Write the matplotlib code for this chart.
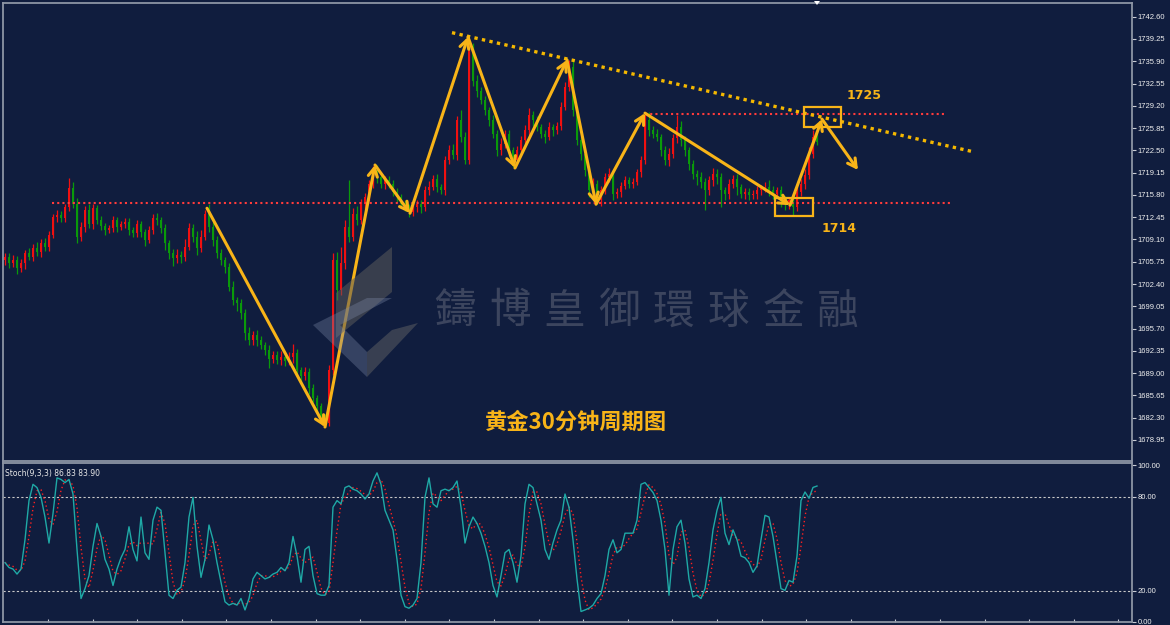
import numpy as np
import pandas as pd
import matplotlib
matplotlib.use("Agg")
import matplotlib.pyplot as plt
from matplotlib.patches import Rectangle, Polygon

# ---- data (30 min gold bars, oldest first) ----
first_open = 1706.0
closes = [
    1706.5, 1705.5, 1706.0, 1704.8, 1705.5, 1707.0, 1706.5, 1707.8, 1707.2, 1708.5,
    1708.0, 1709.8, 1712.5, 1712.8, 1712.3, 1714.0, 1716.8, 1714.5, 1709.5, 1711.0,
    1713.5, 1711.5, 1713.8, 1712.0, 1711.2, 1710.5, 1710.8, 1712.0, 1711.0, 1711.5,
    1711.8, 1710.5, 1710.0, 1711.5, 1710.2, 1709.0, 1710.5, 1712.3, 1712.0, 1710.8,
    1708.5, 1707.0, 1706.3, 1706.8, 1706.5, 1708.0, 1710.8, 1709.5, 1707.8, 1709.5,
    1713.0, 1711.0, 1709.0, 1707.0, 1706.0, 1705.0, 1702.0, 1700.0, 1699.5, 1698.0,
    1695.0, 1694.0, 1694.8, 1694.0, 1693.2, 1692.5, 1691.2, 1691.8, 1691.0, 1691.5,
    1690.8, 1691.5, 1692.0, 1689.5, 1688.5, 1689.2, 1686.8, 1685.3, 1684.0, 1682.5,
    1681.5, 1689.5, 1706.0, 1701.5, 1705.5, 1711.0, 1709.5, 1713.0, 1712.0, 1714.5,
    1715.5, 1717.5, 1719.5, 1718.5, 1717.5, 1718.0, 1717.5, 1716.3, 1715.5, 1714.5,
    1714.0, 1713.2, 1714.0, 1714.5, 1714.0, 1716.5, 1717.0, 1718.2, 1717.0, 1716.5,
    1721.0, 1722.5, 1721.8, 1727.0, 1724.5, 1721.0, 1737.5, 1733.0, 1731.5, 1730.0,
    1728.5, 1727.0, 1725.0, 1722.5, 1723.5, 1725.0, 1722.5, 1721.0, 1722.5, 1724.0,
    1725.5, 1727.8, 1727.0, 1726.0, 1725.0, 1724.5, 1726.0, 1725.5, 1726.2, 1729.0,
    1732.0, 1735.0, 1728.5, 1724.0, 1722.0, 1719.5, 1716.5, 1717.5, 1715.0, 1716.5,
    1718.5, 1719.0, 1716.0, 1716.3, 1717.2, 1718.0, 1717.5, 1717.8, 1719.2, 1721.0,
    1727.0, 1725.5, 1725.0, 1724.5, 1722.5, 1721.0, 1722.0, 1724.3, 1726.0, 1724.0,
    1722.5, 1720.5, 1719.0, 1718.5, 1717.8, 1716.5, 1718.0, 1719.0, 1718.5, 1716.5,
    1716.0, 1717.5, 1718.2, 1717.0, 1716.0, 1716.3, 1715.8, 1716.0, 1716.5, 1716.8,
    1717.0, 1716.5, 1716.0, 1716.5, 1715.0, 1714.5, 1715.0, 1714.0, 1716.3, 1717.5,
    1718.8, 1722.0, 1724.5, 1723.8,
]
# wick lengths above / below the body
high_wick = [
    0.6, 0.5, 0.8, 0.6, 0.7, 0.5, 0.8, 0.6, 0.9, 0.7,
    0.8, 0.6, 0.5, 0.7, 0.6, 0.5, 1.5, 0.9, 0.8, 0.7,
    0.6, 0.9, 0.7, 0.5, 0.6, 0.4, 0.5, 0.6, 0.5, 0.4,
    0.5, 0.6, 0.5, 0.6, 0.4, 0.5, 0.7, 0.6, 0.8, 0.5,
    0.6, 0.5, 0.7, 0.9, 0.6, 1.2, 0.8, 0.6, 0.9, 1.0,
    0.6, 1.5, 0.8, 0.6, 0.7, 0.5, 0.6, 0.8, 0.5, 0.7,
    0.6, 0.9, 0.5, 0.7, 0.6, 0.5, 0.8, 0.5, 0.6, 0.9,
    0.5, 0.7, 1.4, 0.6, 0.5, 0.8, 0.6, 0.5, 0.4, 0.5,
    0.4, 0.8, 1.0, 1.2, 2.5, 1.0, 7.0, 0.8, 1.2, 0.7,
    0.6, 0.5, 0.6, 0.8, 0.5, 0.6, 0.7, 0.5, 0.6, 0.5,
    0.6, 0.5, 0.8, 0.5, 0.6, 0.7, 0.9, 0.6, 0.8, 0.5,
    0.6, 0.8, 1.0, 0.7, 1.5, 0.8, 1.5, 1.2, 0.8, 0.6,
    0.7, 0.5, 0.8, 0.6, 0.9, 0.5, 0.6, 0.5, 0.7, 0.6,
    0.8, 1.0, 0.6, 0.7, 0.5, 0.6, 0.8, 0.5, 0.6, 0.7,
    0.8, 1.1, 0.9, 0.7, 0.6, 0.5, 0.6, 0.8, 0.5, 0.7,
    0.6, 0.8, 0.5, 0.6, 0.5, 0.7, 0.5, 0.6, 0.5, 0.6,
    1.0, 1.2, 0.6, 0.7, 0.5, 0.6, 0.8, 0.6, 1.8, 0.9,
    0.7, 0.5, 0.6, 0.5, 0.8, 0.5, 0.6, 0.8, 0.7, 0.6,
    0.5, 0.7, 0.6, 0.8, 0.5, 0.6, 0.5, 0.6, 0.7, 0.5,
    0.8, 1.0, 0.6, 0.5, 0.6, 0.7, 0.5, 0.6, 0.8, 0.7,
    0.9, 1.0, 1.0, 0.8,
]
low_wick = [
    0.8, 0.7, 0.6, 0.9, 0.6, 0.8, 0.5, 0.7, 0.6, 0.8,
    0.6, 0.7, 0.5, 0.8, 0.6, 0.5, 0.6, 0.7, 1.0, 0.6,
    0.7, 0.6, 0.8, 0.5, 0.6, 0.7, 0.5, 0.6, 0.8, 0.5,
    0.6, 0.7, 0.5, 0.6, 0.8, 0.9, 0.5, 0.6, 0.7, 0.8,
    1.0, 0.8, 1.2, 0.7, 0.9, 0.6, 0.5, 0.8, 1.0, 0.6,
    0.5, 0.8, 0.9, 0.7, 0.8, 1.0, 0.7, 0.8, 1.2, 0.9,
    1.0, 0.8, 0.7, 0.9, 0.6, 0.8, 1.5, 0.7, 0.6, 0.8,
    0.7, 0.6, 0.9, 0.7, 0.8, 0.6, 0.9, 0.7, 0.8, 0.9,
    0.6, 0.5, 0.8, 1.5, 0.7, 0.9, 0.8, 0.6, 0.7, 0.6,
    0.8, 0.6, 0.7, 0.9, 0.6, 0.8, 0.7, 0.6, 0.8, 0.7,
    0.6, 0.7, 0.5, 0.8, 0.9, 0.6, 0.7, 0.5, 0.8, 0.6,
    0.7, 0.5, 0.6, 0.8, 0.7, 0.6, 0.5, 0.8, 0.9, 0.6,
    0.7, 0.9, 0.6, 0.8, 0.7, 0.6, 0.9, 1.0, 0.6, 0.5,
    0.6, 0.7, 0.8, 0.6, 0.7, 0.9, 0.5, 0.8, 0.6, 0.7,
    0.5, 0.6, 0.8, 0.7, 0.9, 0.8, 1.0, 0.7, 0.6, 0.8,
    0.6, 0.7, 0.9, 0.6, 0.8, 0.5, 0.7, 0.6, 0.5, 0.7,
    0.6, 0.8, 0.7, 0.6, 0.9, 0.7, 0.8, 0.6, 0.7, 0.8,
    0.9, 1.0, 0.8, 1.2, 0.9, 3.0, 0.7, 0.8, 1.0, 2.5,
    0.9, 0.8, 0.7, 1.2, 0.6, 0.8, 0.7, 0.6, 0.8, 0.7,
    0.6, 0.9, 0.8, 0.7, 1.0, 0.9, 0.8, 1.2, 0.6, 0.7,
    0.8, 0.6, 0.7, 0.5,
]
# Stoch(9,3,3) main line
stoch_k = [
    37.9, 34.8, 33.8, 30.6, 33.8, 52.5, 77.5, 87.9, 85.8, 79.6,
    67.0, 50.4, 69.2, 92.0, 91.0, 89.0, 91.0, 81.7, 46.3, 15.0,
    21.3, 29.6, 48.3, 62.9, 54.6, 40.0, 33.8, 23.3, 33.8, 41.0,
    46.3, 60.8, 46.3, 39.0, 67.0, 44.2, 40.0, 65.0, 73.3, 71.3,
    44.2, 17.1, 15.0, 20.2, 22.3, 37.9, 67.0, 79.6, 48.3, 28.5,
    40.0, 61.9, 52.5, 37.9, 25.4, 12.9, 10.8, 11.9, 10.8, 15.0,
    7.7, 15.0, 27.5, 31.7, 29.6, 27.5, 28.5, 30.6, 31.7, 34.8,
    32.7, 37.9, 54.6, 42.1, 25.4, 46.3, 48.3, 29.6, 18.1, 17.1,
    17.1, 23.3, 73.3, 77.5, 75.4, 85.8, 86.9, 84.8, 83.8, 81.7,
    78.5, 81.7, 90.0, 95.2, 87.9, 71.3, 65.0, 58.8, 40.0, 17.1,
    9.8, 8.8, 10.8, 15.0, 37.9, 79.6, 92.0, 75.4, 73.3, 83.8,
    84.8, 83.8, 85.8, 90.0, 73.3, 50.4, 60.8, 67.0, 62.9, 56.7,
    48.3, 37.9, 23.3, 16.0, 29.6, 44.2, 46.3, 37.9, 25.4, 42.1,
    75.4, 87.9, 85.8, 75.4, 65.0, 46.3, 40.0, 50.4, 58.8, 65.0,
    81.7, 73.3, 52.5, 27.5, 6.7, 7.7, 8.8, 10.8, 15.0, 18.1,
    29.6, 46.3, 52.5, 44.2, 46.3, 56.7, 56.7, 56.7, 65.0, 87.9,
    89.0, 85.8, 82.7, 77.5, 65.0, 46.3, 17.1, 46.3, 60.8, 65.0,
    50.4, 27.5, 16.0, 17.1, 15.0, 21.3, 37.9, 58.8, 71.3, 79.6,
    56.7, 49.4, 58.8, 52.5, 42.1, 41.0, 37.9, 31.7, 35.8, 52.5,
    68.1, 67.0, 54.6, 37.9, 21.3, 20.2, 26.5, 25.4, 42.1, 77.5,
    83.0, 79.0, 85.9, 86.8,
]
price_ticks = [1742.60, 1739.25, 1735.90, 1732.55, 1729.20, 1725.85, 1722.50,
               1719.15, 1715.80, 1712.45, 1709.10, 1705.75, 1702.40, 1699.05,
               1695.70, 1692.35, 1689.00, 1685.65, 1682.30, 1678.95]
stoch_ticks = [100, 80, 20, 0]
stoch_levels = [80, 20]

# analysis drawn on the chart (bar index, price)
swing_bars = [50.5, 80, 92.5, 101.25, 115.75, 127.5, 140.5, 147.75, 160, 196.25, 204.25, 213.25]
swing_prices = [1713.8, 1680.9, 1720.3, 1713.05, 1739.55, 1719.85, 1736.1, 1714.4,
                1728.1, 1714.25, 1727.2, 1719.55]
trend_bars = [111.75, 242]
trend_prices = [1740.2, 1722.3]
support = 1714.6
resistance = 1728.0

# ---- styling ----
BG = '#101d3e'
FRAME = '#8d95a5'
ORANGE = '#f8b418'
UP = '#f01010'
DOWN = '#0a9a0a'
CJK = ['Noto Sans CJK SC', 'DejaVu Sans']

W, H = 1170, 625
fig = plt.figure(figsize=(W / 100, H / 100), dpi=100, facecolor=BG)


def frac(x, y):
    return x / W, 1 - y / H


ax = fig.add_axes([3 / W, 1 - 461 / H, 1129 / W, 458 / H], facecolor=BG)
ax2 = fig.add_axes([3 / W, 1 - 622 / H, 1129 / W, 159 / H], facecolor=BG)

c = np.array(closes)
o = np.r_[first_open, c[:-1]]
hi = np.maximum(o, c) + np.array(high_wick)
lo = np.minimum(o, c) - np.array(low_wick)
x = np.arange(len(c))
cols = np.where(c >= o, UP, DOWN)

ax.vlines(x, lo, hi, colors=cols, linewidth=0.9, zorder=2)
ax.bar(x, np.maximum(np.abs(c - o), 0.15), bottom=np.minimum(o, c), width=0.74,
       color=cols, linewidth=0, zorder=3)

# support / resistance
ax.plot([11.75, 236.25], [support, support], color='#ff3b3b', lw=1.5,
        linestyle=(0, (1, 1.5)), zorder=4)
ax.plot([160, 235.2], [resistance, resistance], color='#ff3b3b', lw=1.5,
        linestyle=(0, (1, 1.5)), zorder=4)
# falling trend line
ax.plot(trend_bars, trend_prices, color='#f5b800', lw=2.4,
        linestyle=(0, (1, 1.3)), zorder=5)

# swing arrows
for k in range(len(swing_bars) - 1):
    ax.annotate('', xy=(swing_bars[k + 1], swing_prices[k + 1]),
                xytext=(swing_bars[k], swing_prices[k]),
                arrowprops=dict(arrowstyle='->,head_length=0.6,head_width=0.33',
                                color=ORANGE, lw=2.2, shrinkA=0, shrinkB=0),
                zorder=6)

# key boxes and labels
ax.add_patch(Rectangle((199.75, 1725.97), 9.25, 3.1, fill=False, ec=ORANGE, lw=1.6, zorder=6))
ax.add_patch(Rectangle((192.5, 1712.68), 9.4, 2.7, fill=False, ec=ORANGE, lw=1.6, zorder=6))
ax.text(214.75, 1730.73, '1725', color=ORANGE, fontsize=9, fontweight='bold',
        ha='center', va='center', zorder=7)
ax.text(208.4, 1710.75, '1714', color=ORANGE, fontsize=9, fontweight='bold',
        ha='center', va='center', zorder=7)
ax.text(142.75, 1681.6, '黄金30分钟周期图', color=ORANGE, fontsize=16, fontweight='bold',
        family=CJK, ha='center', va='center', zorder=7)

ax.set_xlim(-0.5, 281.75)
ax.set_ylim(1675.79, 1744.66)
ax.set_xticks([])
ax.yaxis.tick_right()
ax.set_yticks(price_ticks)
ax.set_yticklabels(['%.2f' % v for v in price_ticks])

# stochastic panel
k_line = pd.Series(stoch_k)
d_line = k_line.rolling(3, min_periods=1).mean()
for lvl in stoch_levels:
    ax2.axhline(lvl, color='#c8c8c8', lw=0.8, linestyle=(0, (2, 2)), zorder=1)
ax2.plot(x, k_line, color='#1fa9a6', lw=1.0, zorder=3)
ax2.plot(x, d_line, color='#ff2020', lw=1.0, linestyle=(0, (1, 2)), zorder=2)
ax2.text(0.002, 0.965, 'Stoch(9,3,3) 86.83 83.90', transform=ax2.transAxes,
         color='#e8e8e8', fontsize=5.5, va='top', ha='left')
ax2.set_xlim(-0.5, 281.75)
ax2.set_ylim(0, 101.5)
ax2.yaxis.tick_right()
ax2.set_yticks(stoch_ticks)
ax2.set_yticklabels(['%.2f' % v for v in stoch_ticks])
ax2.set_xticks(np.arange(10.75, 282, 11.15))
ax2.set_xticklabels([])
ax2.tick_params(axis='x', direction='in', length=2, color='#c8ccd4')

for a in (ax, ax2):
    for s in a.spines.values():
        s.set_color(FRAME)
        s.set_linewidth(1.3)
    a.tick_params(axis='y', direction='out', length=3, width=0.8, color='#c8ccd4',
                  labelcolor='#f0f0f0', labelsize=5.5, pad=1)
    for lab in a.get_yticklabels():
        lab.set_family(['Liberation Sans Narrow', 'Liberation Sans'])

# watermark logo and company name
logo = [
    ([(392, 247), (392, 292), (336, 338), (336, 293)], '#5a5a5a', 0.55),
    ([(313, 325), (367, 298), (392, 298), (340, 325), (367, 352), (367, 377)], '#7d8aa8', 0.35),
    ([(367, 352), (392, 330), (418, 323), (367, 377)], '#6a6a6a', 0.45),
]
for pts, col, al in logo:
    fig.add_artist(Polygon([frac(px, py) for px, py in pts], closed=True,
                           transform=fig.transFigure, fc=col, ec='none', alpha=al))
name = '鑄博皇御環球金融'
for k, ch in enumerate(name):
    fig.text(*frac(455 + 54.7 * k, 312), ch, color='#62677a', alpha=0.55, fontsize=30,
             family=['Noto Sans CJK TC', 'DejaVu Sans'], ha='center', va='center')

# chart shift marker on top edge
fig.add_artist(Polygon([frac(814, 1), frac(820, 1), frac(817, 5)], closed=True,
                       transform=fig.transFigure, fc='white', ec='none'))

fig.savefig('out.png', dpi=100, facecolor=BG)
